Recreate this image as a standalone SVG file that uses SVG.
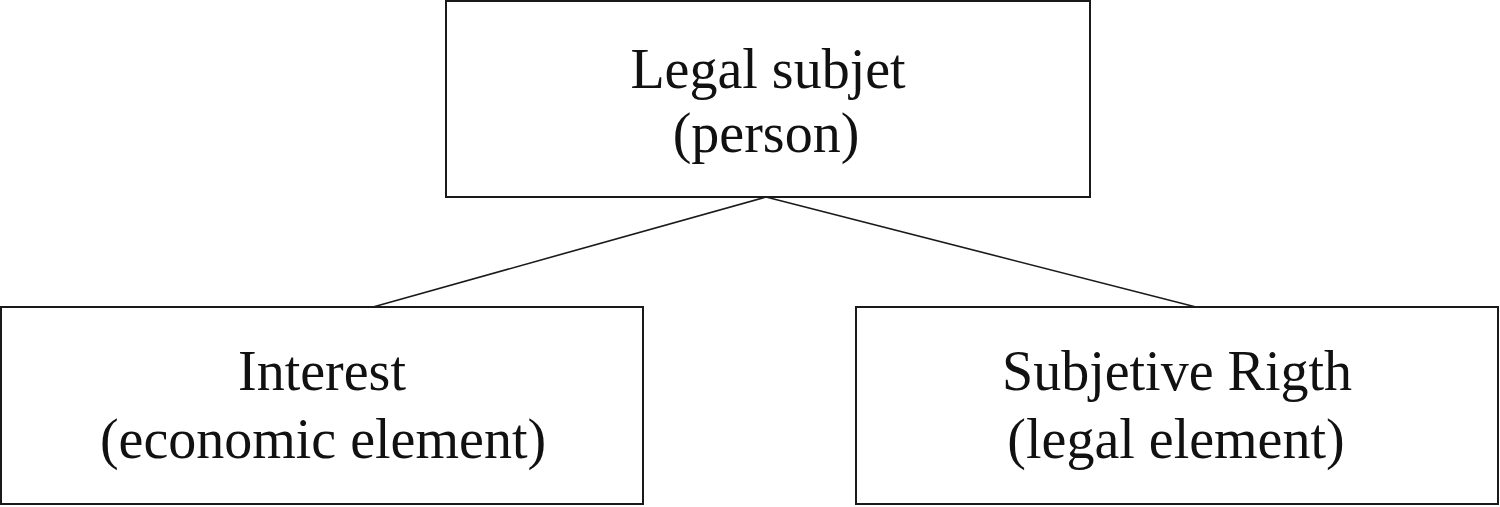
<svg xmlns="http://www.w3.org/2000/svg" width="1500" height="507" viewBox="0 0 1500 507">
<style>
.box{fill:#fff;stroke:#1a1a1a;stroke-width:2}
.lbl{font-family:"Liberation Serif","Times New Roman",serif;font-size:56px;fill:#111;text-anchor:middle}
.conn{stroke:#1a1a1a;stroke-width:1.6;fill:none}
</style>
<rect width="1500" height="507" fill="#fff"/>
<g id="connectors">
<line class="conn" x1="766" y1="197" x2="373" y2="307"/>
<line class="conn" x1="766" y1="197" x2="1196" y2="307"/>
</g>
<g id="node-legal-subject">
<rect class="box" x="446" y="1" width="644" height="196"/>
<text class="lbl" x="768" y="88">Legal subjet</text>
<text class="lbl" x="766" y="152">(person)</text>
</g>
<g id="node-interest">
<rect class="box" x="1" y="307" width="642" height="197"/>
<text class="lbl" x="322" y="390">Interest</text>
<text class="lbl" x="323" y="458">(economic element)</text>
</g>
<g id="node-subjective-right">
<rect class="box" x="856" y="307" width="642" height="197"/>
<text class="lbl" x="1177" y="390">Subjetive Rigth</text>
<text class="lbl" x="1176" y="458">(legal element)</text>
</g>
</svg>
